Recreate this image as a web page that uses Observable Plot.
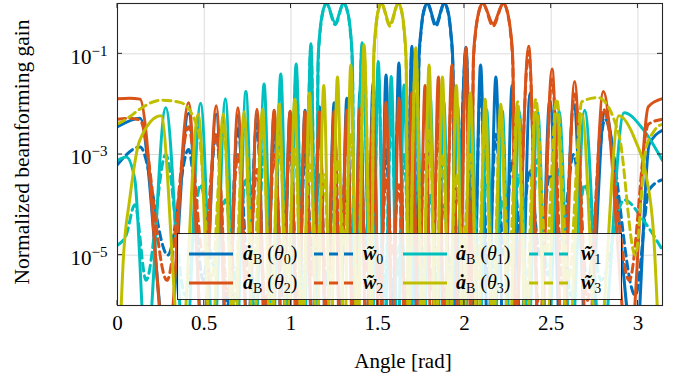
<!DOCTYPE html>
<html><head><meta charset="utf-8">
<script src="https://cdn.jsdelivr.net/npm/d3@7"></script>
<script src="https://cdn.jsdelivr.net/npm/@observablehq/plot@0.6"></script>
<style>
html,body{margin:0;padding:0;background:#fff;}
#wrap{position:relative;width:684px;height:381px;overflow:hidden;font-family:"Liberation Serif","Times New Roman",serif;color:#000;}
#legend{position:absolute;left:177px;top:233px;width:445px;height:67px;box-sizing:border-box;border:1px solid #262626;background:rgba(255,255,255,0.86);}
.lg{position:absolute;font-size:20px;height:22px;line-height:22px;white-space:nowrap;}
.sub{font-size:0.7em;position:relative;top:0.3em;font-style:normal;font-weight:normal;}
.sm{position:absolute;}
</style></head><body><div id="wrap"></div>
<script>
// ---- axis ticks ----
const xTicks = [0, 0.5, 1, 1.5, 2, 2.5, 3];
const xTickLabels = ["0", "0.5", "1", "1.5", "2", "2.5", "3"];
const yTicks = [1e-5, 1e-3, 1e-1];
const yTickLabels = ["10^\u22125", "10^\u22123", "10^\u22121"];

// ---- series: angle [rad] and log10(normalized gain), lobe peaks / nulls ----
// theta0 (blue)
const angle0 = [0,0.13,0.29,0.41,0.494,0.569,0.635,0.694,0.751,0.804,
  0.855,0.903,0.950,0.995,1.039,1.081,1.123,1.164,1.204,1.249,
  1.283,1.322,1.360,1.398,1.436,1.473,1.511,1.548,1.585,1.622,
  1.660,1.697,
  1.725,1.737,1.750,1.762,1.786,1.835,1.884,1.908,1.920,1.933,1.946,
  2.009,2.050,2.093,
  2.136,2.181,2.227,2.275,2.325,2.378,2.433,2.492,2.558,2.629,
  2.710,2.810,2.985,3.065,3.1416];
const logA0 = [-2.45,-2.28,-7,-2.18,-6.8,-2.2,-7.2,-2.22,-6.6,-2.2,
  -7,-2.18,-6.9,-2.16,-7.3,-2.12,-6.7,-2.05,-7,-1.97,
  -6.8,-1.88,-7.1,-1.76,-6.9,-1.6,-7,-1.42,-6.8,-1.18,
  -7,-0.85,
  -6.5,-1.15,-0.52,-0.2,0,-0.4,0,-0.2,-0.52,-1.15,-6.5,
  -0.87,-7,-1.22,
  -6.9,-1.46,-7.1,-1.63,-6.8,-1.78,-7,-1.9,-6.9,-2.0,
  -7.2,-2.15,-7,-2.8,-2.52];
const logW0 = [-3.2,-2.85,-5.0,-2.9,-5.5,-2.6,-6,-2.45,-5.2,-2.4,
  -6.5,-2.5,-5.8,-2.7,-6.2,-3.0,-5.0,-3.4,-5.6,-3.7,
  -4.9,-3.8,-5.3,-3.9,-4.8,-3.6,-5.5,-2.9,-6,-1.6,
  -6.5,-0.95,
  -6,-1.25,-0.56,-0.22,0,-0.45,0,-0.22,-0.56,-1.25,-6,
  -0.95,-6.2,-1.6,
  -5.5,-2.6,-5,-3.1,-4.6,-3.3,-5,-3.4,-4.7,-3.0,
  -5.5,-2.3,-5.8,-3.7,-3.5];
// theta1 (cyan)
const angle1 = [0,0.05,0.10,0.165,0.278,0.392,0.479,0.555,0.622,0.684,
  0.740,0.794,0.845,0.894,0.941,0.986,1.030,1.073,1.115,
  1.144,1.156,1.168,1.181,1.205,1.255,1.303,1.329,1.342,1.354,1.367,
  1.410,1.466,1.503,1.541,1.578,1.615,
  1.652,1.690,1.727,1.765,1.803,1.842,1.881,1.920,1.960,2.001,
  2.042,2.084,2.128,2.172,2.218,2.266,2.316,2.367,2.422,2.480,
  2.545,2.614,2.693,2.788,2.920,3.030,3.1416];
const logA1 = [-3.12,-3.05,-3.5,-7,-2.07,-7,-1.98,-6.8,-1.89,-7.1,
  -1.75,-6.9,-1.6,-7,-1.4,-6.8,-1.2,-7.2,-0.8,
  -6.5,-1.15,-0.52,-0.2,0,-0.38,0,-0.2,-0.52,-1.15,-6.5,
  -0.78,-7,-1.15,-6.9,-1.45,-7,
  -1.62,-6.8,-1.76,-7.1,-1.87,-6.9,-1.95,-7,-2.02,-6.8,
  -2.07,-7.2,-2.11,-6.9,-2.13,-7,-2.14,-6.8,-2.14,-7.1,
  -2.13,-6.9,-2.12,-7,-2.17,-2.5,-3.12];
const logW1 = [-4.8,-4.6,-4.0,-5.5,-3.0,-5.8,-3.6,-5.2,-3.9,-5.5,
  -3.5,-6,-2.9,-5.6,-2.3,-6.2,-1.45,-6.5,-0.85,
  -6.2,-1.25,-0.56,-0.22,0,-0.42,0,-0.22,-0.56,-1.25,-6.2,
  -0.85,-6.4,-1.4,-5.8,-2.3,-5.4,
  -3.0,-6,-3.5,-5.2,-3.8,-5.6,-4.0,-5.3,-3.7,-5.9,
  -3.3,-5.0,-3.6,-5.5,-3.9,-5.2,-3.4,-6.0,-3.1,-5.4,
  -3.3,-5.8,-3.6,-5.5,-3.9,-4.3,-4.9];
// theta2 (orange)
const angle2 = [0,0.07,0.13,0.285,0.41,0.494,0.569,0.635,0.694,0.751,
  0.804,0.855,0.903,0.950,0.995,1.039,1.081,1.123,1.164,1.204,
  1.249,1.283,1.322,1.360,1.398,1.436,1.473,1.511,1.548,1.585,
  1.622,1.660,1.697,1.735,1.773,1.811,1.850,1.883,1.928,1.968,
  2.009,
  2.037,2.051,2.065,2.080,2.106,2.165,2.224,2.250,2.265,2.279,2.293,
  2.370,2.433,2.505,2.565,
  2.635,2.710,2.800,2.950,3.060,3.1416];
const logA2 = [-1.89,-1.88,-1.9,-7,-1.97,-6.9,-2.03,-7.1,-2.07,-6.8,
  -2.1,-7,-2.12,-6.9,-2.14,-7.2,-2.15,-6.8,-2.15,-7,
  -2.14,-6.9,-2.12,-7.1,-2.08,-6.8,-2.03,-7,-1.96,-6.9,
  -1.88,-7.2,-1.77,-6.8,-1.63,-7,-1.46,-6.9,-1.22,-7,
  -0.88,
  -6.5,-1.15,-0.52,-0.2,0,-0.4,0,-0.2,-0.52,-1.15,-6.5,
  -0.85,-7,-1.3,-6.9,
  -1.55,-7,-1.75,-7,-2.05,-1.89];
const logW2 = [-2.3,-2.28,-2.32,-5.5,-2.45,-5.0,-2.6,-5.8,-3.0,-5.5,
  -3.3,-6,-3.0,-5.2,-2.7,-6.1,-2.5,-5.4,-2.4,-6.3,
  -2.5,-5.0,-2.7,-6.0,-3.0,-5.3,-3.3,-5.8,-3.5,-5.0,
  -3.6,-6.0,-3.4,-5.2,-3.0,-5.7,-2.4,-6.2,-1.6,-6.5,
  -0.95,
  -6.2,-1.25,-0.56,-0.22,0,-0.45,0,-0.22,-0.56,-1.25,-6.2,
  -0.95,-6.4,-1.5,-5.6,
  -1.8,-5.9,-2.1,-5.5,-2.4,-2.3];
// theta3 (olive)
const angle3 = [0,0.035,0.07,0.128,0.251,0.365,0.465,0.542,0.610,0.671,
  0.730,0.784,0.836,0.885,0.932,0.978,1.022,1.065,1.107,1.149,
  1.189,1.229,1.268,1.307,1.345,1.384,1.421,
  1.464,1.476,1.4875,1.499,1.521,1.570,1.619,1.641,1.6525,1.664,1.676,
  1.720,1.758,1.796,1.835,1.873,1.913,1.953,1.993,
  2.034,2.076,2.119,2.164,2.209,2.257,2.306,2.357,2.411,2.471,
  2.532,2.600,2.677,2.769,2.890,2.985,3.045,3.090,3.125,3.1416];
const logA3 = [-8,-5.0,-3.9,-2.72,-2.23,-7,-2.2,-6.9,-2.19,-7.1,
  -2.15,-6.8,-2.1,-7,-2.0,-6.9,-1.9,-7.2,-1.78,-6.8,
  -1.63,-7,-1.46,-6.9,-1.22,-7.1,-0.82,
  -6.5,-1.15,-0.52,-0.2,0,-0.4,0,-0.2,-0.52,-1.15,-6.5,
  -0.88,-7,-1.22,-6.9,-1.46,-7.1,-1.63,-6.8,
  -1.78,-7,-1.9,-6.9,-2.0,-7.2,-2.1,-6.8,-2.15,-7,
  -2.19,-6.9,-2.2,-7.1,-2.23,-2.72,-3.38,-4.57,-7,-8];
const logW3 = [-2.39,-2.33,-2.25,-2.1,-1.92,-1.97,-2.5,-5.5,-2.4,-6.0,
  -2.3,-5.2,-2.4,-6.2,-2.6,-5.4,-2.9,-6.0,-3.2,-5.0,
  -3.4,-5.6,-3.1,-4.8,-2.6,-6.0,-1.0,
  -6.2,-1.25,-0.56,-0.22,0,-0.45,0,-0.22,-0.56,-1.25,-6.2,
  -1.0,-6.0,-2.5,-5.2,-3.0,-5.8,-3.4,-4.9,
  -3.0,-5.5,-2.5,-6.0,-2.1,-5.3,-1.95,-5.8,-1.9,-5.0,
  -1.9,-5.5,-1.95,-1.87,-2.6,-5.0,-2.9,-2.55,-2.42,-2.4];

const colors = ["#0072BD", "#00BFBF", "#D95319", "#BFBF00"];
const thetaIdx = ["0", "1", "2", "3"];

// drawing order follows legend order: a0, w0, a1, w1, a2, w2, a3, w3
const seriesList = [
  {angles: angle0, logs: logA0, color: colors[0], dashed: false},
  {angles: angle0, logs: logW0, color: colors[0], dashed: true},
  {angles: angle1, logs: logA1, color: colors[1], dashed: false},
  {angles: angle1, logs: logW1, color: colors[1], dashed: true},
  {angles: angle2, logs: logA2, color: colors[2], dashed: false},
  {angles: angle2, logs: logW2, color: colors[2], dashed: true},
  {angles: angle3, logs: logA3, color: colors[3], dashed: false},
  {angles: angle3, logs: logW3, color: colors[3], dashed: true}
];
const DASH = "8,5";

const lineMarks = seriesList.map(s => Plot.line(
  s.angles.map((a, i) => ({angle: a, gain: Math.pow(10, s.logs[i])})),
  {x: "angle", y: "gain", stroke: s.color, strokeWidth: 3,
   strokeDasharray: s.dashed ? DASH : null, curve: "monotone-x",
   strokeLinejoin: "round", clip: true}
));

const chart = Plot.plot({
  width: 684, height: 381,
  marginLeft: 117, marginRight: 22, marginTop: 3, marginBottom: 76,
  style: {background: "#fff", fontFamily: "'Liberation Serif', 'Times New Roman', serif", fontSize: "21px", color: "#000", overflow: "visible"},
  x: {domain: [0, Math.PI]},
  y: {type: "log", domain: [1e-6, 1]},
  marks: [
    Plot.gridX(xTicks.slice(1), {stroke: "#dcdcdc", strokeOpacity: 1, strokeWidth: 1}),
    Plot.gridY(yTicks, {stroke: "#dcdcdc", strokeOpacity: 1, strokeWidth: 1}),
    ...lineMarks,
    Plot.frame({stroke: "#262626", strokeWidth: 1.1}),
    Plot.axisX(xTicks, {tickSize: 0, tickPadding: 10, tickFormat: d => xTickLabels[xTicks.indexOf(d)], label: null, fontSize: 21}),
    Plot.axisY(yTicks, {tickSize: 0, tickPadding: 10, dy: 3, tickFormat: d => yTickLabels[yTicks.indexOf(d)], label: null, fontSize: 21})
  ]
});

const NS = "http://www.w3.org/2000/svg";
// superscript exponents on the y tick labels
chart.querySelectorAll('[aria-label="y-axis tick label"] text').forEach(t => {
  const s = t.textContent;
  const parts = s.split("^");
  if (parts.length !== 2) return;
  while (t.firstChild) t.removeChild(t.firstChild);
  const b = document.createElementNS(NS, "tspan"); b.textContent = parts[0]; t.appendChild(b);
  const e = document.createElementNS(NS, "tspan"); e.textContent = parts[1];
  e.setAttribute("dy", "-8"); e.setAttribute("font-size", "15"); t.appendChild(e);
});

// inward ticks on all four sides, positioned with the plot scales
const sx = chart.scale("x"), sy = chart.scale("y");
const L = 117, R = 662, T = 3, B = 305;
const tg = d3.select(chart).append("g").attr("stroke", "#262626").attr("stroke-width", 1);
xTicks.forEach(v => {
  const px = sx.apply(v);
  tg.append("line").attr("x1", px).attr("x2", px).attr("y1", B).attr("y2", B - 5);
  tg.append("line").attr("x1", px).attr("x2", px).attr("y1", T).attr("y2", T + 5);
});
yTicks.forEach(v => {
  const py = sy.apply(v);
  tg.append("line").attr("y1", py).attr("y2", py).attr("x1", L).attr("x2", L + 5);
  tg.append("line").attr("y1", py).attr("y2", py).attr("x1", R).attr("x2", R - 5);
});

// axis titles
d3.select(chart).append("text").attr("x", 403).attr("y", 368).attr("text-anchor", "middle")
  .attr("font-size", 21).attr("fill", "#000").text("Angle [rad]");
d3.select(chart).append("text").attr("transform", "translate(29,152) rotate(-90)").attr("text-anchor", "middle")
  .attr("font-size", 21.5).attr("fill", "#000").text("Normalized beamforming gain");

const wrap = document.getElementById("wrap");
wrap.appendChild(chart);

// legend (2 rows x 4 columns, filled row-wise)
const legend = document.createElement("div");
legend.id = "legend";
wrap.appendChild(legend);
const rowCenters = [20, 49];
const colSample = [11, 136, 225, 351];
const colLabel = [65, 185, 278, 403];
const SW = 44;
seriesList.forEach((s, i) => {
  const row = Math.floor(i / 4), col = i % 4;
  const k = thetaIdx[Math.floor(i / 2)];
  const cy = rowCenters[row];
  const svg = document.createElementNS(NS, "svg");
  svg.setAttribute("class", "sm"); svg.setAttribute("width", SW); svg.setAttribute("height", 6);
  svg.style.left = colSample[col] + "px"; svg.style.top = (cy - 3) + "px";
  const ln = document.createElementNS(NS, "line");
  ln.setAttribute("x1", 0); ln.setAttribute("x2", SW); ln.setAttribute("y1", 3); ln.setAttribute("y2", 3);
  ln.setAttribute("stroke", s.color); ln.setAttribute("stroke-width", 3);
  if (s.dashed) ln.setAttribute("stroke-dasharray", "9,6");
  svg.appendChild(ln); legend.appendChild(svg);
  const lab = document.createElement("div");
  lab.className = "lg";
  lab.style.left = colLabel[col] + "px"; lab.style.top = (cy - 12) + "px";
  lab.innerHTML = s.dashed
    ? '<b><i>w\u0303</i></b><span class="sub">' + k + '</span>'
    : '<b><i>\u0227</i></b><span class="sub">B</span> (<i>\u03b8</i><span class="sub">' + k + '</span>)';
  legend.appendChild(lab);
});
</script></body></html>
